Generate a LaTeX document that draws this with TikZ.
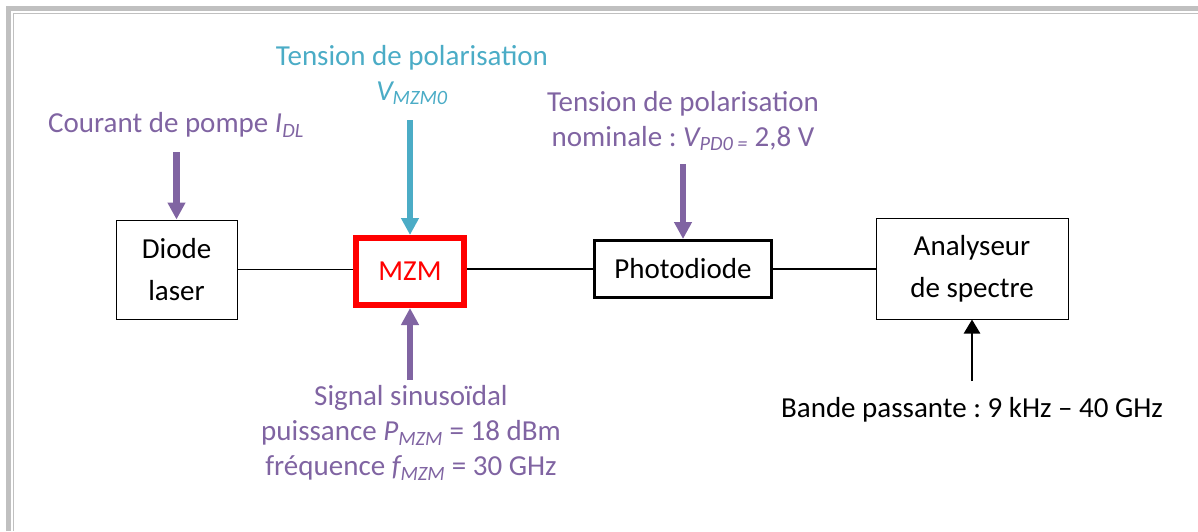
\documentclass[tikz,border=0pt]{standalone}
\usepackage{fontspec}
\setmainfont{Carlito}
\usepackage{xcolor}
\usepackage{tikz}
\usetikzlibrary{arrows.meta}
\usetikzlibrary{calc,positioning}
\frenchspacing

\definecolor{mauve}{HTML}{8064A2}
\definecolor{bleuciel}{HTML}{4BACC6}
\definecolor{cadre}{HTML}{C0C0C0}

\tikzset{
  bloc/.style={draw, line width=1pt, align=center, inner sep=0pt,
    font=\fontsize{29}{42}\selectfont},
  etiquette/.style={align=center, inner sep=0pt,
    font=\fontsize{29}{35}\selectfont},
  fleche/.style={line width=6.5pt, -{Triangle[width=17pt,length=17pt]}},
  liaison/.style={line width=1.3pt},
}

\begin{document}
\begin{tikzpicture}[x=1pt, y=-1pt]

    \useasboundingbox (0,0) rectangle (1198,531);

    % Cadre
    \draw[cadre, line width=5pt] (8.5,531) -- (8.5,8.5) -- (1198,8.5);
    \draw[cadre, line width=1.5pt] (13.5,531) -- (13.5,13.5) -- (1198,13.5);

    % Blocs
    \node[bloc, minimum width=121pt, minimum height=99pt] (diode)
      at (176.5,269.5) {Diode\\laser};
    \node[bloc, draw=red, text=red, line width=6pt,
      minimum width=108pt, minimum height=67pt] (mzm) at (410,271.5) {MZM};
    \node[bloc, line width=3pt, minimum width=177pt, minimum height=57pt]
      (photo) at (683,269) {Photodiode};
    \node[bloc, minimum width=192pt, minimum height=101pt] (analyseur)
      at (972,268.5) {Analyseur\\de spectre};

    % Liaisons
    \draw[liaison] (diode.east) -- (diode.east -| mzm.west);
    \draw[liaison] (mzm.east |- photo.west) -- (photo.west);
    \draw[liaison] (photo.east) -- (photo.east -| analyseur.west);

    % Courant de pompe
    \node[etiquette, text=mauve] (pompe) at (176,125)
      {Courant de pompe {\itshape I\textsubscript{DL}}};
    \coordinate (pompe-depart) at (176.5,152);
    \draw[fleche, mauve] (pompe-depart) -- (diode);

    % Tension de polarisation MZM
    \node[etiquette, text=bleuciel] (polmzm) at (412,75)
      {Tension de polarisation\\{\itshape V\textsubscript{MZM0}}};
    \coordinate (polmzm-depart) at (410,120);
    \draw[fleche, bleuciel] (polmzm-depart) -- (mzm);

    % Tension de polarisation photodiode
    \node[etiquette, text=mauve] (polpd) at (683,121)
      {Tension de polarisation\\nominale : {\itshape V\textsubscript{PD0 =}} 2,8 V};
    \coordinate (polpd-depart) at (683,164);
    \draw[fleche, mauve] (polpd-depart) -- (photo);

    % Signal RF
    \node[etiquette, text=mauve] (signal) at (411,433)
      {Signal sinuso\"idal\\puissance {\itshape P\textsubscript{MZM}} = 18 dBm\\
       fréquence {\itshape f\textsubscript{MZM}} = 30 GHz};
    \coordinate (signal-depart) at (410,380);
    \draw[fleche, mauve] (signal-depart) -- (mzm);

    % Bande passante
    \node[etiquette] (bande) at (972,410)
      {Bande passante : 9 kHz -- 40 GHz};
    \coordinate (bande-depart) at (972,381);
    \draw[line width=2.5pt, -{Triangle[width=16pt,length=14pt]}]
      (bande-depart) -- (analyseur);

\end{tikzpicture}
\end{document}
